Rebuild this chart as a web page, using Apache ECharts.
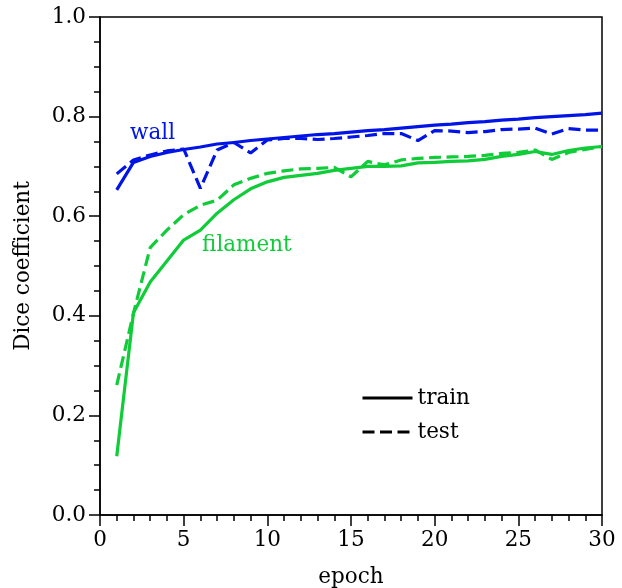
<!DOCTYPE html>
<html>
<head>
<meta charset="utf-8">
<script src="https://cdn.jsdelivr.net/npm/echarts@6/dist/echarts.min.js"></script>
<style>
  html, body { margin: 0; padding: 0; background: #fff; }
  #chart { width: 622px; height: 588px; }
</style>
</head>
<body>
<div id="chart"></div>
<script>
// epochs 1..30
const epochs = Array.from({ length: 30 }, (_, i) => i + 1)

const wallTrain = [0.653, 0.708, 0.720, 0.728, 0.734, 0.739, 0.745, 0.748, 0.752, 0.755,
  0.758, 0.761, 0.764, 0.766, 0.769, 0.772, 0.774, 0.777, 0.780, 0.783,
  0.785, 0.788, 0.790, 0.793, 0.795, 0.798, 0.800, 0.802, 0.804, 0.807]
const wallTest = [0.685, 0.713, 0.723, 0.731, 0.735, 0.656, 0.733, 0.748, 0.727, 0.753,
  0.756, 0.756, 0.754, 0.756, 0.759, 0.762, 0.766, 0.766, 0.752, 0.772,
  0.771, 0.768, 0.770, 0.774, 0.775, 0.777, 0.765, 0.776, 0.773, 0.773]
const filTrain = [0.118, 0.406, 0.468, 0.510, 0.552, 0.572, 0.606, 0.633, 0.655, 0.669,
  0.678, 0.682, 0.686, 0.692, 0.696, 0.700, 0.700, 0.701, 0.707, 0.708,
  0.710, 0.711, 0.714, 0.720, 0.724, 0.730, 0.724, 0.732, 0.737, 0.740]
const filTest = [0.261, 0.405, 0.537, 0.572, 0.603, 0.622, 0.632, 0.663, 0.676, 0.686,
  0.691, 0.695, 0.696, 0.698, 0.679, 0.710, 0.703, 0.713, 0.716, 0.718,
  0.719, 0.720, 0.722, 0.726, 0.728, 0.733, 0.714, 0.728, 0.734, 0.740]

const BLUE = '#0014e6'
const GREEN = '#10cc38'
const FONT = 'DejaVu Serif'
const FS = 21.5
const DASH = [12, 5.5]

const pairs = arr => arr.map((v, i) => [epochs[i], v])

function lineSeries(name, data, color, dashed) {
  return {
    name,
    type: 'line',
    data: pairs(data),
    symbol: 'none',
    silent: true,
    lineStyle: { color, width: 3.2, type: dashed ? DASH : 'solid' },
  }
}

const chart = echarts.init(document.getElementById('chart'), null, { renderer: 'canvas' })

const axisCommon = {
  axisLine: { onZero: false, lineStyle: { color: '#000', width: 1.5 } },
  axisTick: { inside: false, length: 11, lineStyle: { color: '#000', width: 1.5 } },
  minorTick: { show: true, length: 6, lineStyle: { color: '#000', width: 1.5 } },
  splitLine: { show: false },
  axisLabel: { color: '#000', fontFamily: FONT, fontSize: FS },
  nameTextStyle: { color: '#000', fontFamily: FONT, fontSize: FS },
}

chart.setOption({
  animation: false,
  grid: {
    left: 100, right: 20, top: 17, bottom: 73,
    outerBoundsMode: 'none', containLabel: false,
    show: true, borderColor: '#000', borderWidth: 1.5,
  },
  legend: {
    orient: 'vertical',
    left: 356, top: 382,
    itemWidth: 50, itemHeight: 14, itemGap: 12,
    itemStyle: { opacity: 0 },
    lineStyle: { width: 3 },
    textStyle: { color: '#000', fontFamily: FONT, fontSize: FS },
    data: ['train', 'test'],
    selectedMode: false,
  },
  xAxis: {
    ...axisCommon,
    type: 'value', min: 0, max: 30, interval: 5,
    minorTick: { ...axisCommon.minorTick, splitNumber: 5 },
    axisLabel: { ...axisCommon.axisLabel, margin: 14 },
    name: 'epoch', nameLocation: 'middle', nameGap: 51,
  },
  yAxis: {
    ...axisCommon,
    type: 'value', min: 0, max: 1, interval: 0.2,
    minorTick: { ...axisCommon.minorTick, splitNumber: 4 },
    axisLabel: { ...axisCommon.axisLabel, margin: 14, formatter: v => v.toFixed(1) },
    name: 'Dice coefficient', nameLocation: 'middle', nameGap: 66,
  },
  series: [
    lineSeries('wall train', wallTrain, BLUE, false),
    lineSeries('wall test', wallTest, BLUE, true),
    lineSeries('filament train', filTrain, GREEN, false),
    lineSeries('filament test', filTest, GREEN, true),
    // legend-only entries
    { name: 'train', type: 'line', data: [], symbol: 'none', lineStyle: { color: '#000', width: 3.2 }, itemStyle: { color: '#000' } },
    { name: 'test', type: 'line', data: [], symbol: 'none', lineStyle: { color: '#000', width: 3.2, type: DASH }, itemStyle: { color: '#000' } },
  ],
})

// in-plot labels placed at data coordinates
const wallPos = chart.convertToPixel({ gridIndex: 0 }, [1.8, 0.767])
const filPos = chart.convertToPixel({ gridIndex: 0 }, [6.1, 0.542])
chart.setOption({
  graphic: [
    { type: 'text', x: wallPos[0], y: wallPos[1], style: { text: 'wall', fill: BLUE, font: FS + 'px "' + FONT + '"', verticalAlign: 'middle' } },
    { type: 'text', x: filPos[0], y: filPos[1], style: { text: 'filament', fill: GREEN, font: FS + 'px "' + FONT + '"', verticalAlign: 'middle' } },
  ],
})
</script>
</body>
</html>
